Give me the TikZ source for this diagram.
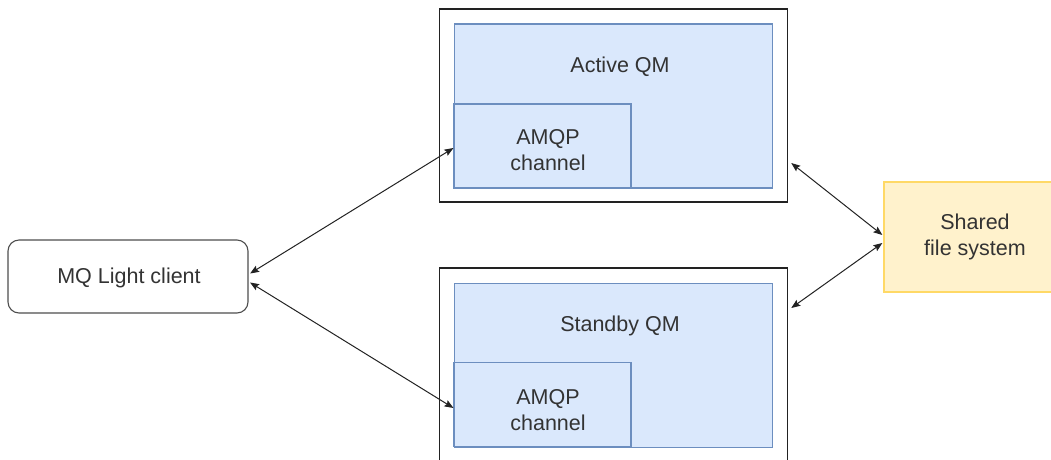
\documentclass[tikz,border=0pt]{standalone}
\usepackage{fontspec}
\setmainfont{Liberation Sans}
\usetikzlibrary{arrows.meta}
\definecolor{bluefill}{HTML}{DAE8FC}
\definecolor{bluestroke}{HTML}{6C8EBF}
\definecolor{yelfill}{HTML}{FFF2CC}
\definecolor{yelstroke}{HTML}{FFD966}
\definecolor{txt}{HTML}{333333}
\definecolor{lines}{HTML}{222222}
\begin{document}
\begin{tikzpicture}[x=1pt,y=-1pt,
  every node/.style={font=\fontsize{21.5}{26}\selectfont, text=txt, inner sep=0pt},
  outerbox/.style={draw=lines, line width=1.3pt, fill=white, minimum width=348pt, minimum height=193pt},
  qmbox/.style={draw=bluestroke, line width=1.1pt, fill=bluefill, minimum width=318.5pt, minimum height=164pt},
  chanbox/.style={draw=bluestroke, line width=1.1pt, fill=bluefill, minimum width=177pt, minimum height=84pt, align=center},
  clientbox/.style={draw=lines!80, line width=1.1pt, rounded corners=11pt, fill=white, minimum width=240pt, minimum height=73pt},
  fsbox/.style={draw=yelstroke, line width=1.3pt, fill=yelfill, minimum width=182pt, minimum height=110pt},
  link/.style={draw=lines, line width=1pt, {Stealth[length=9pt,width=7pt,inset=1.5pt]}-{Stealth[length=9pt,width=7pt,inset=1.5pt]}}
]
\useasboundingbox (0,0) rectangle (1051,459);
\clip (0,0) rectangle (1051,459);

\node[clientbox] (client) at (128,276.5) {};
\node (clienttext) at (129,278) {MQ Light client};

\node[outerbox] (outer1) at (613.6,105.5) {};
\node[qmbox] (qm1) at (613.5,106) {};
\node (qm1text) at (620,67) {Active QM};
\node[chanbox] (chan1) at (542.5,146) {};
\node[align=center] (chan1text) at (548,150) {AMQP\\channel};

\node[outerbox] (outer2) at (613.6,364.5) {};
\node[qmbox] (qm2) at (613.5,365.5) {};
\node (qm2text) at (620,326) {Standby QM};
\node[chanbox] (chan2) at (542.5,404.5) {};
\node[align=center] (chan2text) at (548,410) {AMQP\\channel};

\node[fsbox] (fs) at (975,237) {};
\node[align=center] (fstext) at (975,237) {Shared\\file system};

\draw[link] ([yshift=3pt,xshift=1.5pt]client.east) -- ([yshift=-2pt]chan1.west);
\draw[link] ([yshift=-6pt,xshift=1.5pt]client.east) -- ([yshift=-3.5pt]chan2.west);
\draw[link] ([yshift=-57.5pt,xshift=3pt]outer1.east) -- ([yshift=2pt,xshift=-1pt]fs.west);
\draw[link] ([yshift=56.5pt,xshift=3pt]outer2.east) -- ([yshift=-6pt,xshift=-1pt]fs.west);
\end{tikzpicture}
\end{document}
